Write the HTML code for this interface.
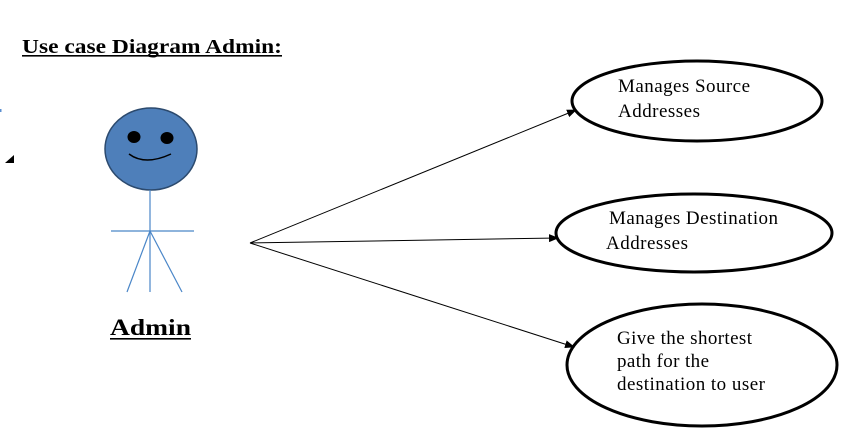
<!DOCTYPE html>
<html><head><meta charset="utf-8"><style>html,body{margin:0;padding:0;background:#fff;width:862px;height:437px;overflow:hidden}</style></head>
<body>
<svg width="862" height="437" viewBox="0 0 862 437" xmlns="http://www.w3.org/2000/svg">
<defs><marker id="a" markerWidth="10" markerHeight="8" refX="9" refY="4" orient="auto" markerUnits="userSpaceOnUse"><path d="M0,0 L10,4 L0,8 z" fill="#000"/></marker></defs>
<text x="22" y="53" font-family="Liberation Serif, serif" font-weight="bold" font-size="20" textLength="260" lengthAdjust="spacingAndGlyphs">Use case Diagram Admin:</text>
<rect x="22" y="55" width="260" height="1.6" fill="#000"/>
<path d="M5,163 L14,155 L14,163 z" fill="#000"/>
<rect x="0" y="109" width="1.5" height="3" fill="#5b8fd0"/>
<ellipse cx="151" cy="149" rx="46" ry="41" fill="#4e7fba" stroke="#2c4a6e" stroke-width="1.5"/>
<ellipse cx="134" cy="137" rx="6.5" ry="6" fill="#000"/>
<ellipse cx="167" cy="138" rx="6.5" ry="6" fill="#000"/>
<path d="M129,154 Q145,166 171,154" fill="none" stroke="#000" stroke-width="1.5"/>
<g stroke="#4a86c8" stroke-width="1.2" fill="none">
<line x1="150" y1="190" x2="150" y2="292"/>
<line x1="111" y1="231" x2="194" y2="231"/>
<line x1="150" y1="231" x2="127" y2="292"/>
<line x1="150" y1="231" x2="182" y2="292"/>
</g>
<text x="110" y="335" font-family="Liberation Serif, serif" font-weight="bold" font-size="23" textLength="81" lengthAdjust="spacingAndGlyphs">Admin</text>
<rect x="110" y="338" width="81" height="1.6" fill="#000"/>
<g stroke="#000" stroke-width="1" marker-end="url(#a)">
<line x1="250" y1="243" x2="576" y2="110"/>
<line x1="250" y1="243" x2="558" y2="238"/>
<line x1="250" y1="243" x2="574" y2="347"/>
</g>
<g fill="none" stroke="#000" stroke-width="3">
<ellipse cx="697" cy="101" rx="125" ry="40"/>
<ellipse cx="694" cy="233" rx="138" ry="39"/>
<ellipse cx="702" cy="365" rx="135" ry="61"/>
</g>
<g font-family="Liberation Serif, serif" font-size="19" fill="#000" lengthAdjust="spacingAndGlyphs">
<text x="618" y="92" textLength="132">Manages Source</text>
<text x="618" y="117" textLength="82">Addresses</text>
<text x="609" y="224" textLength="169">Manages Destination</text>
<text x="606" y="249" textLength="82">Addresses</text>
<text x="617" y="344" textLength="135">Give the shortest</text>
<text x="617" y="367" textLength="92">path for the</text>
<text x="617" y="390" textLength="148">destination to user</text>
</g>
</svg>
</body></html>
